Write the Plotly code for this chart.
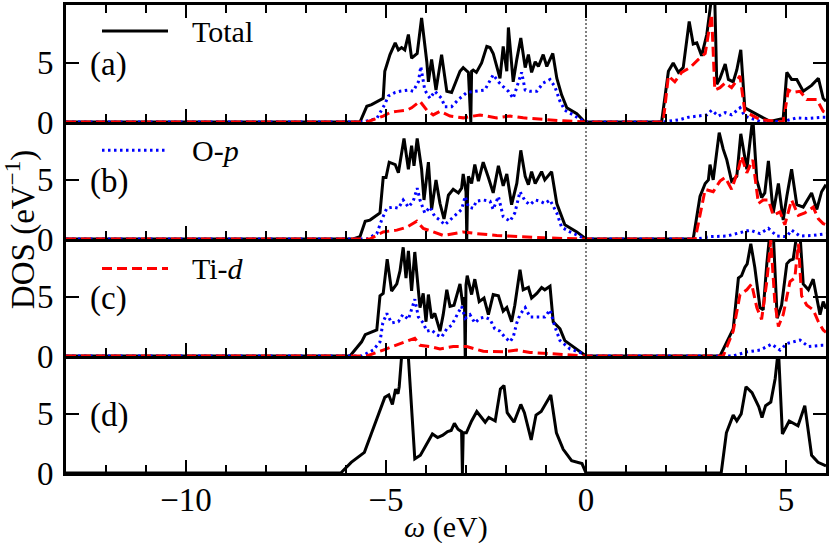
import plotly.graph_objects as go

# ---------------- data: (omega [eV], DOS [1/eV]) ----------------
a_total = [(-13, 0), (-5.65, 0), (-5.48, 1.33), (-5.36, 1.47), (-5.07, 2.0), (-5.03, 4.3), (-4.90, 5.7), (-4.77, 6.7),
           (-4.69, 6.1), (-4.61, 6.3), (-4.53, 6.1), (-4.44, 7.4), (-4.36, 5.4), (-4.22, 5.8), (-4.11, 8.8), (-3.98, 5.1),
           (-3.94, 3.4), (-3.86, 5.3), (-3.75, 2.7), (-3.61, 5.7), (-3.48, 2.6), (-3.36, 2.5), (-3.15, 4.3), (-3.07, 4.6),
           (-2.94, 4.2), (-2.88, 0), (-2.86, 4.3), (-2.82, 4.4), (-2.74, 4.2), (-2.61, 5.0), (-2.48, 6.4), (-2.40, 6.3),
           (-2.32, 5.8), (-2.23, 4.6), (-2.15, 3.7), (-2.07, 6.4), (-1.98, 4.3), (-1.94, 8.0), (-1.82, 3.4), (-1.73, 5.3),
           (-1.63, 7.1), (-1.52, 4.6), (-1.44, 5.7), (-1.36, 4.2), (-1.27, 5.1), (-1.19, 4.7), (-1.07, 5.7), (-0.98, 4.7),
           (-0.83, 5.8), (-0.73, 3.7), (-0.61, 2.3), (-0.48, 1.2), (-0.23, 0.7), (-0.03, 0), (1.89, 0), (2.06, 4.3),
           (2.18, 5.0), (2.31, 4.2), (2.43, 4.6), (2.58, 8.5), (2.68, 6.6), (2.77, 6.7), (2.89, 5.6), (3.02, 7.4),
           (3.13, 10.3), (3.22, 10.3), (3.27, 3.2), (3.35, 3.7), (3.48, 4.9), (3.56, 3.6), (3.68, 3.4), (3.77, 4.4),
           (3.87, 6.1), (3.97, 1.2), (4.18, 0.8), (4.43, 0.35), (4.60, 0.05), (4.93, 0.3), (5.02, 4.2), (5.14, 3.6),
           (5.27, 3.6), (5.43, 2.6), (5.64, 3.1), (5.81, 3.7), (5.93, 2.0), (6.0, 1.75)]
a_op = [(-13, 0), (-5.57, 0), (-5.23, 0.3), (-5.03, 1.5), (-4.94, 2.2), (-4.77, 2.5), (-4.65, 2.6), (-4.44, 2.7),
        (-4.32, 2.6), (-4.19, 3.4), (-4.13, 4.7), (-4.03, 2.7), (-3.90, 2.0), (-3.78, 2.6), (-3.61, 2.0), (-3.53, 1.3),
        (-3.36, 1.3), (-3.19, 1.9), (-2.98, 2.5), (-2.74, 2.6), (-2.53, 2.7), (-2.32, 4.0), (-2.19, 3.4), (-2.07, 3.0),
        (-1.94, 2.6), (-1.82, 2.0), (-1.69, 3.3), (-1.61, 4.2), (-1.52, 2.7), (-1.40, 2.6), (-1.23, 2.6), (-1.07, 3.3),
        (-0.90, 3.6), (-0.78, 3.0), (-0.65, 1.75), (-0.53, 1.0), (-0.32, 0.6), (-0.03, 0), (1.93, 0), (2.35, 0.2),
        (2.56, 0.4), (2.85, 0.5), (3.02, 0.6), (3.14, 1.0), (3.31, 0.5), (3.48, 0.8), (3.64, 0.6), (3.85, 1.2),
        (3.97, 0.5), (4.35, 0.05), (4.93, 0.05), (5.27, 0.35), (5.52, 0.3), (5.89, 0.4), (6.0, 0.4)]
a_tid = [(-13, 0), (-5.48, 0), (-5.07, 0.5), (-4.90, 0.8), (-4.73, 0.9), (-4.48, 1.0), (-4.36, 1.2), (-4.15, 1.75),
         (-3.98, 1.0), (-3.82, 0.6), (-3.65, 0.9), (-3.40, 0.5), (-3.07, 0.35), (-2.65, 0.6), (-2.23, 0.35), (-1.90, 0.5),
         (-1.57, 0.35), (-1.07, 0.2), (-0.57, 0.1), (-0.03, 0), (1.93, 0), (2.06, 3.9), (2.22, 3.4), (2.39, 4.2),
         (2.60, 4.6), (2.81, 5.3), (2.98, 5.8), (3.14, 9.1), (3.22, 2.7), (3.35, 2.9), (3.48, 3.3), (3.64, 2.9),
         (3.85, 3.9), (3.97, 0.9), (4.35, 0.2), (4.93, 0), (5.06, 2.7), (5.18, 2.5), (5.35, 2.6), (5.52, 1.9),
         (5.77, 1.9), (5.93, 0.9), (6.0, 0.8)]

b_total = [(-13, 0), (-5.82, 0), (-5.65, 0.2), (-5.52, 1.5), (-5.40, 1.6), (-5.15, 2.2), (-5.07, 5.2), (-5.00, 5.2),
           (-4.92, 6.5), (-4.77, 6.3), (-4.69, 5.6), (-4.55, 8.5), (-4.44, 5.9), (-4.36, 7.9), (-4.30, 6.2), (-4.22, 8.5),
           (-4.11, 5.9), (-4.05, 3.3), (-3.94, 6.5), (-3.86, 2.5), (-3.75, 5.0), (-3.65, 3.0), (-3.55, 1.7), (-3.44, 3.7),
           (-3.32, 4.2), (-3.19, 3.9), (-3.11, 4.3), (-3.07, 5.5), (-3.00, 4.0), (-2.98, 0), (-2.96, 4.0), (-2.94, 5.3),
           (-2.86, 4.7), (-2.78, 6.3), (-2.69, 4.9), (-2.57, 6.5), (-2.44, 5.2), (-2.32, 3.9), (-2.19, 6.2), (-2.07, 4.5),
           (-1.98, 5.5), (-1.86, 2.9), (-1.73, 4.7), (-1.63, 7.5), (-1.52, 5.3), (-1.44, 4.6), (-1.36, 5.7), (-1.27, 4.7),
           (-1.11, 5.7), (-1.03, 5.0), (-0.86, 5.7), (-0.73, 3.0), (-0.53, 1.2), (-0.23, 0.6), (0, 0), (2.68, 0),
           (2.85, 3.6), (2.98, 4.7), (3.06, 5.0), (3.10, 6.3), (3.18, 5.0), (3.33, 9.0), (3.43, 7.6), (3.52, 6.7),
           (3.64, 4.9), (3.77, 5.3), (3.87, 8.9), (4.02, 5.9), (4.17, 10.3), (4.27, 5.0), (4.39, 3.5), (4.47, 3.9),
           (4.56, 6.6), (4.68, 2.2), (4.81, 4.7), (4.93, 1.6), (5.02, 3.6), (5.14, 5.9), (5.27, 2.9), (5.43, 2.7),
           (5.64, 3.9), (5.77, 2.5), (5.89, 4.0), (6.0, 4.6)]
b_op = [(-13, 0), (-5.48, 0), (-5.23, 0.45), (-5.11, 1.6), (-4.98, 2.6), (-4.82, 2.7), (-4.69, 2.6), (-4.57, 3.3),
        (-4.44, 2.7), (-4.32, 3.2), (-4.22, 4.3), (-4.15, 3.3), (-4.03, 2.2), (-3.90, 2.7), (-3.78, 1.9), (-3.65, 1.6),
        (-3.53, 1.2), (-3.40, 1.6), (-3.28, 1.9), (-3.11, 2.5), (-3.02, 3.6), (-2.94, 2.7), (-2.82, 2.6), (-2.74, 3.2),
        (-2.57, 3.3), (-2.40, 3.2), (-2.32, 2.5), (-2.19, 3.6), (-2.07, 1.9), (-1.90, 1.5), (-1.78, 2.2), (-1.65, 4.0),
        (-1.52, 3.2), (-1.40, 2.9), (-1.27, 3.3), (-1.15, 3.2), (-1.03, 3.0), (-0.90, 3.3), (-0.73, 2.2), (-0.61, 1.0),
        (-0.40, 0.6), (-0.07, 0.1), (0, 0), (2.77, 0), (3.10, 0.2), (3.52, 0.25), (3.85, 0.5), (4.10, 0.75),
        (4.35, 0.45), (4.56, 0.9), (4.77, 0.25), (5.02, 0.2), (5.14, 0.75), (5.35, 0.25), (5.68, 0.3), (5.93, 0.45),
        (6.0, 0.45)]
b_tid = [(-13, 0), (-5.40, 0), (-5.07, 0.6), (-4.73, 0.75), (-4.48, 1.0), (-4.23, 1.5), (-4.07, 0.9), (-3.82, 0.6),
         (-3.57, 0.3), (-3.07, 0.6), (-2.73, 0.45), (-2.23, 0.3), (-1.73, 0.2), (-1.07, 0.1), (-0.57, 0.05), (0, 0),
         (2.73, 0), (2.98, 4.2), (3.18, 4.0), (3.35, 4.9), (3.48, 5.2), (3.64, 4.2), (3.81, 5.9), (3.89, 7.0),
         (4.02, 5.6), (4.17, 6.7), (4.31, 3.0), (4.43, 3.3), (4.56, 3.3), (4.68, 2.0), (4.85, 2.3), (4.97, 1.2),
         (5.14, 3.3), (5.31, 2.0), (5.47, 2.2), (5.68, 2.7), (5.81, 1.7), (5.93, 1.3), (6.0, 1.2)]

c_total = [(-13, 0), (-5.90, 0), (-5.61, 1.2), (-5.52, 1.8), (-5.23, 2.2), (-5.15, 5.1), (-5.07, 5.3), (-4.97, 8.2),
           (-4.86, 5.5), (-4.73, 6.1), (-4.65, 7.2), (-4.57, 9.2), (-4.50, 6.6), (-4.44, 8.9), (-4.36, 5.5), (-4.28, 8.8),
           (-4.15, 4.1), (-4.07, 5.3), (-4.00, 2.9), (-3.94, 5.2), (-3.86, 3.2), (-3.78, 3.6), (-3.65, 2.1), (-3.57, 3.5),
           (-3.48, 5.6), (-3.40, 4.2), (-3.30, 4.3), (-3.15, 6.1), (-3.08, 4.3), (-3.04, 5.0), (-3.02, 0), (-3.00, 6.0),
           (-2.97, 6.8), (-2.86, 5.2), (-2.78, 6.5), (-2.67, 4.6), (-2.55, 4.9), (-2.44, 3.5), (-2.32, 5.2), (-2.19, 5.1),
           (-2.07, 3.8), (-1.98, 4.1), (-1.86, 2.9), (-1.78, 4.3), (-1.65, 7.3), (-1.57, 5.6), (-1.44, 5.8), (-1.36, 4.9),
           (-1.23, 5.3), (-1.11, 5.8), (-1.03, 5.6), (-0.90, 5.9), (-0.82, 2.9), (-0.65, 2.3), (-0.53, 1.3), (-0.23, 0.6),
           (0, 0), (3.35, 0), (3.52, 1.2), (3.68, 2.3), (3.81, 6.6), (3.89, 6.8), (3.97, 7.5), (4.03, 7.8),
           (4.12, 9.5), (4.22, 7.5), (4.35, 4.1), (4.43, 3.9), (4.52, 7.8), (4.60, 10.5), (4.68, 10.5), (4.78, 3.2),
           (4.89, 4.3), (5.02, 7.8), (5.10, 8.1), (5.18, 8.2), (5.27, 10.3), (5.35, 10.3), (5.43, 6.1), (5.56, 5.6),
           (5.68, 6.5), (5.77, 4.9), (5.85, 3.5), (5.93, 4.6), (6.0, 4.0)]
c_op = [(-13, 0), (-5.61, 0), (-5.32, 0.5), (-5.15, 1.2), (-5.08, 2.8), (-4.98, 3.6), (-4.86, 2.8), (-4.69, 2.9),
        (-4.58, 3.5), (-4.44, 3.1), (-4.28, 4.8), (-4.19, 3.3), (-4.07, 2.8), (-3.98, 2.1), (-3.86, 2.2), (-3.73, 1.8),
        (-3.61, 1.6), (-3.48, 2.3), (-3.36, 2.6), (-3.23, 3.5), (-3.11, 4.2), (-3.02, 3.2), (-2.90, 3.5), (-2.78, 2.8),
        (-2.65, 3.2), (-2.53, 3.3), (-2.40, 3.1), (-2.28, 2.3), (-2.15, 2.1), (-2.03, 1.6), (-1.90, 1.2), (-1.82, 1.6),
        (-1.73, 2.8), (-1.65, 3.5), (-1.52, 4.1), (-1.40, 3.3), (-1.23, 3.3), (-1.03, 3.3), (-0.90, 3.9), (-0.78, 2.5),
        (-0.65, 1.3), (-0.40, 0.6), (-0.07, 0.2), (0, 0), (3.68, 0), (4.02, 0.35), (4.35, 0.5), (4.64, 1.0),
        (4.85, 0.5), (5.02, 1.05), (5.35, 1.35), (5.56, 0.8), (5.89, 0.9), (6.0, 0.9)]
c_tid = [(-13, 0), (-5.48, 0), (-5.07, 0.5), (-4.73, 0.9), (-4.48, 1.25), (-4.28, 1.5), (-4.15, 0.9), (-3.90, 0.8),
         (-3.65, 0.6), (-3.32, 0.8), (-2.98, 0.8), (-2.57, 0.4), (-2.07, 0.35), (-1.73, 0.5), (-1.40, 0.3), (-0.90, 0.2),
         (0, 0), (3.43, 0), (3.68, 2.1), (3.85, 5.2), (4.02, 5.6), (4.14, 6.1), (4.27, 4.1), (4.39, 3.1),
         (4.52, 6.3), (4.62, 9.8), (4.72, 4.6), (4.81, 2.5), (4.93, 3.5), (5.10, 6.3), (5.22, 6.6), (5.31, 9.5),
         (5.39, 5.1), (5.52, 4.3), (5.68, 3.9), (5.81, 2.9), (5.93, 2.2), (6.0, 2.0)]

d_total = [(-13, 0), (-6.13, 0), (-5.87, 0.9), (-5.54, 1.75), (-5.37, 3.3), (-5.03, 6.4), (-4.93, 6.6), (-4.84, 5.8),
           (-4.76, 7.1), (-4.70, 6.7), (-4.67, 7.3), (-4.60, 10.3), (-4.45, 10.3), (-4.28, 1.2), (-4.14, 1.5),
           (-4.01, 2.3), (-3.84, 3.3), (-3.71, 3.0), (-3.58, 3.2), (-3.46, 3.5), (-3.37, 3.6), (-3.29, 4.2),
           (-3.20, 3.7), (-3.11, 3.5), (-3.09, 0), (-3.07, 3.4), (-2.99, 3.4), (-2.86, 4.4), (-2.73, 5.2), (-2.52, 4.3),
           (-2.43, 4.7), (-2.27, 4.4), (-2.14, 7.1), (-2.05, 7.4), (-1.97, 5.1), (-1.80, 4.3), (-1.63, 5.8),
           (-1.54, 5.1), (-1.37, 2.8), (-1.25, 4.9), (-1.12, 5.2), (-0.88, 6.6), (-0.74, 3.4), (-0.57, 2.0),
           (-0.36, 1.05), (-0.10, 0.8), (0, 0), (3.38, 0), (3.51, 3.4), (3.68, 4.9), (3.77, 4.4), (3.88, 5.0),
           (4.00, 7.3), (4.15, 6.8), (4.32, 5.6), (4.40, 4.7), (4.49, 5.7), (4.62, 6.0), (4.73, 8.0), (4.81, 10.5),
           (4.91, 3.3), (5.08, 4.4), (5.30, 4.0), (5.47, 5.7), (5.64, 1.5), (5.80, 0.9), (6.0, 0.6)]

panel_labels = ["(a)", "(b)", "(c)", "(d)"]
legend_labels = ["Total", "O-<i>p</i>", "Ti-<i>d</i>"]
x_range = [-13, 6]
y_range = [0, 9.9]

# ---------------- styles ----------------
FONT = "Liberation Serif, Times New Roman, serif"
FS = 30        # legend text
FS_TICK = 33   # tick labels
FS_PANEL = 33  # (a)...(d)
FS_TITLE = 33  # axis titles
style_total = dict(color="black", width=3)
style_op = dict(color="#0000ff", width=3, dash="2.5px,3.5px")
style_tid = dict(color="#ff0000", width=3, dash="10px,5px")

panels = [
    [(a_total, style_total), (a_op, style_op), (a_tid, style_tid)],
    [(b_total, style_total), (b_op, style_op), (b_tid, style_tid)],
    [(c_total, style_total), (c_op, style_op), (c_tid, style_tid)],
    [(d_total, style_total)],
]

fig = go.Figure()
n = len(panels)
for i, series in enumerate(panels):
    k = i + 1
    xa = "x" if k == 1 else f"x{k}"
    ya = "y" if k == 1 else f"y{k}"
    for pts, st in series:
        xs = [p[0] for p in pts]
        ys = [p[1] for p in pts]
        fig.add_trace(go.Scatter(x=xs, y=ys, mode="lines", line=st, xaxis=xa, yaxis=ya,
                                 showlegend=False, hoverinfo="skip"))

layout = {}
for i in range(n):
    k = i + 1
    top = 1 - i / n
    bot = 1 - (i + 1) / n
    xname = "xaxis" if k == 1 else f"xaxis{k}"
    yname = "yaxis" if k == 1 else f"yaxis{k}"
    layout[xname] = dict(
        domain=[0, 1], anchor="y" if k == 1 else f"y{k}", range=x_range, automargin=False,
        tick0=0, dtick=5, ticks="inside", ticklen=13, tickwidth=2, tickcolor="black",
        minor=dict(tick0=0, dtick=1, ticks="inside", ticklen=8, tickwidth=2, tickcolor="black", showgrid=False),
        showline=True, linewidth=3, linecolor="black", showgrid=False, zeroline=False,
        mirror="ticks" if k == 1 else False,
        showticklabels=(k == n), ticklabelstandoff=-5,
        tickfont=dict(family=FONT, size=FS_TICK, color="black"),
    )
    if k > 1:
        layout[xname]["matches"] = "x"
    layout[yname] = dict(
        domain=[bot, top], anchor="x" if k == 1 else f"x{k}", range=y_range, automargin=False,
        tick0=0, dtick=5, ticks="inside", ticklen=13, tickwidth=2, tickcolor="black",
        showline=True, linewidth=3, linecolor="black", showgrid=False, zeroline=False,
        mirror="ticks", ticklabelstandoff=3,
        tickfont=dict(family=FONT, size=FS_TICK, color="black"),
    )

annotations = []
shapes = []
for i, lab in enumerate(panel_labels):
    k = i + 1
    annotations.append(dict(text=lab, x=-11.93, y=4.9, xref="x" if k == 1 else f"x{k}",
                            yref="y" if k == 1 else f"y{k}", showarrow=False,
                            xanchor="center", yanchor="middle",
                            font=dict(family=FONT, size=FS_PANEL, color="black")))

leg_styles = [style_total, style_op, style_tid]
leg_y = [7.7, 7.5, 7.4]
for i, (lab, st) in enumerate(zip(legend_labels, leg_styles)):
    k = i + 1
    xr = "x" if k == 1 else f"x{k}"
    yr = "y" if k == 1 else f"y{k}"
    shapes.append(dict(type="line", xref=xr, yref=yr, x0=-12.1, x1=-10.45, y0=leg_y[i], y1=leg_y[i],
                       line=st))
    annotations.append(dict(text=lab, x=-9.9, y=leg_y[i], xref=xr, yref=yr, showarrow=False,
                            xanchor="left", yanchor="middle",
                            font=dict(family=FONT, size=FS, color="black")))

# vertical Fermi level line
shapes.append(dict(type="line", xref="x", yref="paper", x0=0, x1=0, y0=0, y1=1,
                   line=dict(color="black", width=1, dash="2px,2px")))

annotations.append(dict(text="DOS (eV<sup>\u22121</sup>)", x=-0.0605, y=0.519, xref="paper", yref="paper",
                        showarrow=False, textangle=-90, xanchor="center", yanchor="middle",
                        font=dict(family=FONT, size=FS_TITLE, color="black")))
annotations.append(dict(text="<i>\u03c9</i> (eV)", x=0.5, y=-0.116, xref="paper", yref="paper",
                        showarrow=False, xanchor="center", yanchor="middle",
                        font=dict(family=FONT, size=FS, color="black")))

fig.update_layout(
    width=830, height=543,
    margin=dict(l=66, r=4, t=5, b=70),
    paper_bgcolor="white", plot_bgcolor="white",
    showlegend=False,
    annotations=annotations, shapes=shapes,
    font=dict(family=FONT, size=FS, color="black"),
    **layout,
)

fig.write_html("out.html", config={"displayModeBar": False},
               post_script="document.body.style.margin='0';")
